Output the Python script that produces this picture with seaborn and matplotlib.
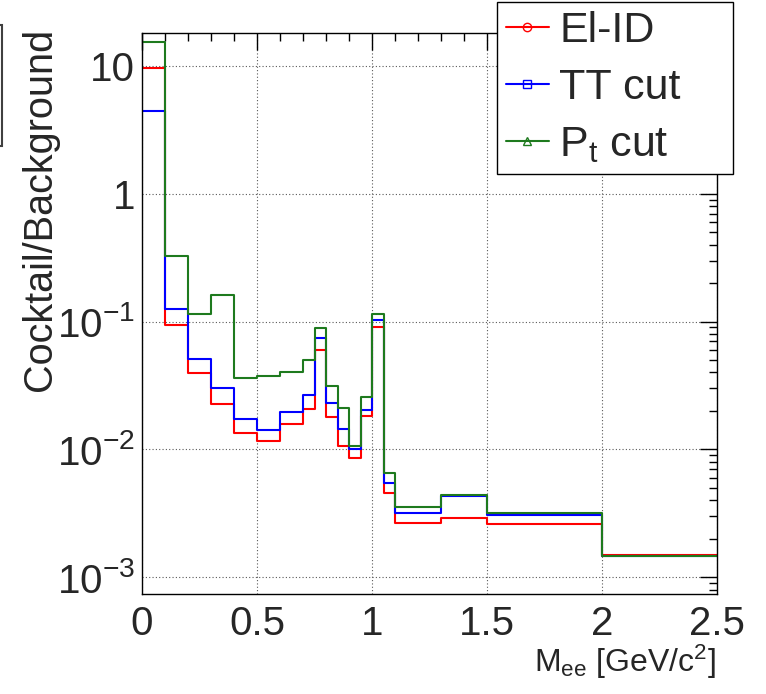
import numpy as np
import pandas as pd
import matplotlib
matplotlib.use("Agg")
import matplotlib.pyplot as plt
from matplotlib.lines import Line2D
from matplotlib.patches import Rectangle
from matplotlib.ticker import MultipleLocator, LogLocator, NullFormatter
import seaborn as sns

# ---------------- data ----------------
bin_edges = [0.0, 0.1, 0.2, 0.3, 0.4, 0.5, 0.6, 0.7, 0.75, 0.8, 0.85, 0.9,
             0.95, 1.0, 1.05, 1.1, 1.3, 1.5, 2.0, 2.5]
series_names = ["El-ID", "TT cut", "P$_{\\mathrm{t}}$ cut"]
el_id = [9.6, 0.094, 0.0394, 0.0227, 0.0135, 0.0116, 0.0159, 0.0206, 0.0597,
         0.0181, 0.0107, 0.00862, 0.0182, 0.091, 0.00459, 0.00266, 0.00292,
         0.00262, 0.00149]
tt_cut = [4.48, 0.126, 0.0514, 0.0303, 0.0173, 0.0142, 0.0196, 0.0267, 0.0745,
          0.0231, 0.0145, 0.0101, 0.0204, 0.103, 0.00544, 0.00317, 0.0043,
          0.00309, 0.00147]
pt_cut = [15.5, 0.327, 0.115, 0.161, 0.0365, 0.0376, 0.0404, 0.0501, 0.0898,
          0.0314, 0.0212, 0.0107, 0.0258, 0.115, 0.00652, 0.00353, 0.0044,
          0.00318, 0.00146]
y_ticks = [1e-3, 1e-2, 1e-1, 1, 10]
y_tick_labels = ["$10^{-3}$", "$10^{-2}$", "$10^{-1}$", "1", "10"]
x_ticks = [0, 0.5, 1, 1.5, 2, 2.5]
x_tick_labels = ["0", "0.5", "1", "1.5", "2", "2.5"]
colors = ["#ff0000", "#0000ff", "#1e7a1e"]
markers = ["o", "s", "^"]

# ---------------- style ----------------
sns.set_theme(style="white")
plt.rcParams["font.family"] = ["Liberation Sans", "DejaVu Sans"]
plt.rcParams["mathtext.fontset"] = "custom"
plt.rcParams["mathtext.rm"] = "Liberation Sans"
plt.rcParams["mathtext.it"] = "Liberation Sans:italic"
plt.rcParams["mathtext.bf"] = "Liberation Sans:bold"
plt.rcParams["axes.unicode_minus"] = True

W, H = 766, 694
fig = plt.figure(figsize=(W / 100, H / 100), dpi=100)
ax_l, ax_r, ax_t, ax_b = 142, 717, 33, 594
ax = fig.add_axes([ax_l / W, 1 - ax_b / H, (ax_r - ax_l) / W, (ax_b - ax_t) / H])

centers = [(a + b) / 2 for a, b in zip(bin_edges[:-1], bin_edges[1:])]
for name, vals, col in zip(series_names, [el_id, tt_cut, pt_cut], colors):
    df = pd.DataFrame({"mass": centers, "ratio": vals})
    sns.histplot(data=df, x="mass", weights="ratio", bins=bin_edges,
                 element="step", fill=False, color=col, linewidth=1.5,
                 ax=ax)

ax.set_yscale("log")
ax.set_xlim(0, 2.5)
ax.set_ylim(7.4e-4, 18.1)

ax.set_xticks(x_ticks, x_tick_labels)
ax.xaxis.set_minor_locator(MultipleLocator(0.1))
ax.set_yticks(y_ticks, y_tick_labels)
ax.yaxis.set_minor_locator(LogLocator(base=10, subs=np.arange(2, 10)))
ax.yaxis.set_minor_formatter(NullFormatter())

ax.tick_params(which="both", direction="in", top=True, right=True,
               color="black", labelsize=29)
ax.tick_params(which="major", length=12, width=1.0)
ax.tick_params(which="minor", length=6, width=1.0)
ax.tick_params(axis="x", pad=8)
ax.tick_params(axis="y", pad=5)

ax.grid(True, which="major", color="0.35", linestyle=(0, (1, 2)), linewidth=0.8)
for s in ax.spines.values():
    s.set_color("black")
    s.set_linewidth(1.0)

ax.set_xlabel("M$_{\\mathrm{ee}}$ [GeV/c$^{2}$]", fontsize=23)
ax.xaxis.label.set(ha="right", va="baseline")
ax.xaxis.set_label_coords(716 / W, 1 - 672 / H, transform=fig.transFigure)

ax.set_ylabel("Cocktail/Background", fontsize=28.5)
ax.yaxis.label.set(ha="center", va="top", rotation_mode="default")
ax.yaxis.set_label_coords(40 / W, 1 - 28 / H, transform=fig.transFigure)

# legend
handles = [Line2D([0], [0], color=c, marker=m, markerfacecolor="none",
                  markeredgecolor=c, markersize=6, linewidth=1.5)
           for c, m in zip(colors, markers)]
leg_x0, leg_x1, leg_y0, leg_y1 = 497, 733, 2, 171
leg = ax.legend(handles, series_names, loc="upper left",
                bbox_to_anchor=(leg_x0 / W, 1 - leg_y1 / H,
                                (leg_x1 - leg_x0) / W, (leg_y1 - leg_y0) / H),
                bbox_transform=fig.transFigure, mode="expand",
                borderaxespad=0, fancybox=False, framealpha=1,
                edgecolor="black", fontsize=31, handlelength=1.0,
                handletextpad=0.25, labelspacing=0.4, borderpad=0.2)
leg.get_frame().set_linewidth(1.0)

# partial box at top-left edge
fig.add_artist(Rectangle((-10 / W, 1 - 146 / H), 12 / W, 121 / H,
                         transform=fig.transFigure, fill=False,
                         edgecolor="0.25", linewidth=1.5))

fig.savefig("out.png", dpi=100)
